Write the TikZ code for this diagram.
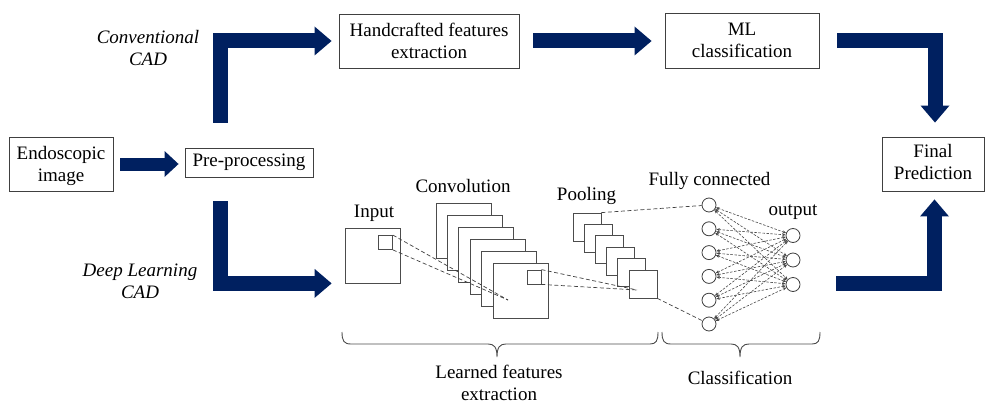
\documentclass[tikz,border=0pt]{standalone}
\usepackage{fontspec}
\setmainfont{Liberation Serif}
\usetikzlibrary{arrows.meta,calc}
\definecolor{navy}{RGB}{0,32,96}
\begin{document}
\begin{tikzpicture}[x=1pt,y=-1pt,
  every node/.style={font=\fontsize{19}{22}\selectfont},
  box/.style={draw=black!75, line width=0.9pt, inner sep=0pt, align=center},
  lbl/.style={inner sep=0pt, anchor=base},
  itlbl/.style={inner sep=0pt, align=center, font=\fontsize{19}{22}\selectfont\itshape},
  bigarrow/.style={draw=navy, line width=15pt, line join=miter,
    -{Triangle[length=17pt,width=29pt,line width=0pt]}},
  fmap/.style={draw=black!70, fill=white, line width=0.8pt, inner sep=0pt, rectangle},
  neuron/.style={circle, draw=black!75, fill=white, line width=0.8pt, inner sep=0pt, minimum size=14pt},
  guide/.style={draw=black!75, line width=0.7pt, dash pattern=on 4pt off 2.5pt},
  link/.style={draw=black!72, line width=0.6pt, dash pattern=on 2.5pt off 1.5pt,
    {Stealth[length=3.5pt,width=3pt]}-{Stealth[length=3.5pt,width=3pt]}},
  curly/.style={draw=black!70, line width=0.9pt}
]
\useasboundingbox (0,0) rectangle (985,404);

% pipeline boxes
\node[box, minimum width=104pt, minimum height=54pt, text depth=0.5pt] (endo) at (61,164) {Endoscopic\\image};
\node[box, minimum width=128pt, minimum height=29pt] (pre) at (249,162.5) {Pre-processing};
\node[box, minimum width=180pt, minimum height=54pt] (hand) at (429,41) {Handcrafted features\\extraction};
\node[box, minimum width=154pt, minimum height=55pt] (ml) at (742,40.5) {ML\\classification};
\node[box, minimum width=102pt, minimum height=54pt, text depth=5pt] (final) at (933,164) {Final\\Prediction};

% branch labels
\node[itlbl] at (148,47.8) {Conventional\\CAD};
\node[itlbl] at (140,281.4) {Deep Learning\\CAD};

% input image and receptive field
\node[fmap, minimum size=55pt] (in) at (372.5,255.5) {};
\node[fmap, minimum size=14pt] (ink) at (385.5,242.5) {};

% convolution feature maps
\foreach \k in {0,...,5}
  \node[fmap, minimum size=55pt] (c\k) at ({463.5+11.4*\k},{230.5+12*\k}) {};
\node[fmap, minimum size=14pt] (ck) at (534,277) {};

% pooled maps
\foreach \k in {0,...,5}
  \node[fmap, minimum size=28pt] (p\k) at ({587+11.2*\k},{227+11.4*\k}) {};

% dense layers
\foreach \i in {1,...,6}
  \node[neuron] (f\i) at (709,{205+23.8*(\i-1)}) {};
\foreach \j in {1,2,3}
  \node[neuron] (o\j) at (793,{235.5+24.5*(\j-1)}) {};
\foreach \i in {1,...,6}
  \foreach \j in {1,2,3}
    \draw[link] (f\i) -- (o\j);

% projection lines between layers
\coordinate (cin) at (508,300);
\coordinate (pin) at (637,290);
\draw[guide] (ink.north east) -- (cin);
\draw[guide] (ink.south east) -- (cin);
\draw[guide] (ck.north east) -- (pin);
\draw[guide] (ck.south east) -- (pin);
\draw[guide] (p0.north east) -- (f1);
\draw[guide] (p5.south east) -- (f6);

% layer labels
\node[lbl] at (374,217.3) {Input};
\node[lbl] at (463,192) {Convolution};
\node[lbl] at (586.5,200) {Pooling};
\node[lbl] at (709.5,185) {Fully connected};
\node[lbl] at (793,215) {output};

% braces
\draw[curly] (342,332) .. controls (342,341) and (344,344) .. (351,344) -- (488,344)
  .. controls (494,344) and (497,347) .. (497,357)
  .. controls (497,347) and (500,344) .. (506,344) -- (650,344)
  .. controls (656,344) and (658,341) .. (658,332);
\draw[curly] (662,332) .. controls (662,341) and (664,344) .. (671,344) -- (731,344)
  .. controls (737,344) and (740,347) .. (740,357)
  .. controls (740,347) and (743,344) .. (749,344) -- (812,344)
  .. controls (818,344) and (820,341) .. (820,332);
\node[align=center, inner sep=0pt] at (499,382.5) {Learned features\\extraction};
\node[lbl] at (740,384) {Classification};

% flow arrows
\draw[bigarrow, line width=13pt, -{Triangle[length=14pt,width=26pt,line width=0pt]},
  shorten <=7pt, shorten >=6pt] (endo.east) -- (endo.east -| pre.west);
\draw[bigarrow, shorten <=25pt, shorten >=7pt] ([xshift=-28.5pt]pre.north) |- (hand.west);
\draw[bigarrow, shorten <=24pt, shorten >=13pt] ([xshift=-28.5pt]pre.south) |- (in.south west);
\draw[bigarrow, shorten <=14pt, shorten >=13pt] (hand.east) -- (hand.east -| ml.west);
\draw[bigarrow, shorten <=18pt, shorten >=14pt] (ml.east) -| ([xshift=2pt]final.north);
\coordinate (clsout) at (836,283.5);
\draw[bigarrow, shorten >=8pt] (clsout) -| ([xshift=1.5pt]final.south);
\end{tikzpicture}
\end{document}
